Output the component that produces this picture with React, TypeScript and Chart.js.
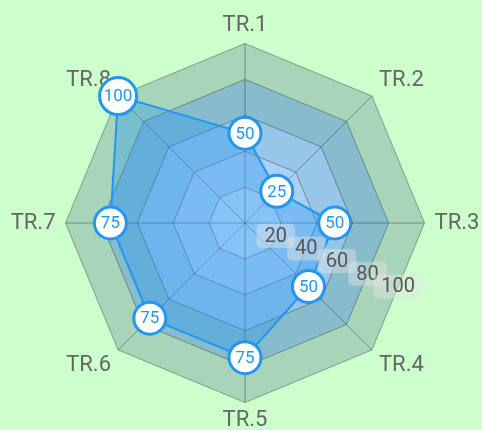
import React, { useEffect, useRef } from 'react';
import { Chart, registerables } from 'chart.js';

Chart.register(...registerables);

const LABELS = ['TR.1', 'TR.2', 'TR.3', 'TR.4', 'TR.5', 'TR.6', 'TR.7', 'TR.8'];
const VALUES = [50, 25, 50, 50, 75, 75, 75, 100];
const TICK_VALUES = [20, 40, 60, 80, 100];
const RING_FILLS = ['#bedcfc', '#aad0f5', '#96c6e8', '#87bccc', '#a8d5b9'];

const BLUE = 'rgb(33,150,243)';

const ringPlugin = {
  id: 'ringFill',
  beforeDraw(chart: any) {
    const s = chart.scales.r;
    const ctx = chart.ctx;
    const n = chart.data.labels.length;
    ctx.save();
    for (let k = TICK_VALUES.length - 1; k >= 0; k--) {
      ctx.beginPath();
      for (let i = 0; i < n; i++) {
        const p = s.getPointPositionForValue(i, TICK_VALUES[k]);
        if (i === 0) ctx.moveTo(p.x, p.y);
        else ctx.lineTo(p.x, p.y);
      }
      ctx.closePath();
      ctx.fillStyle = RING_FILLS[k];
      ctx.fill();
    }
    ctx.restore();
  },
};

const tickPlugin = {
  id: 'tickLabels',
  afterDatasetsDraw(chart: any) {
    const s = chart.scales.r;
    const ctx = chart.ctx;
    ctx.save();
    ctx.font = '20px Roboto';
    ctx.textAlign = 'center';
    ctx.textBaseline = 'middle';
    TICK_VALUES.forEach((v) => {
      const d = s.getDistanceFromCenterForValue(v) * Math.cos(Math.PI / 8);
      const p = s.getPointPosition(2.5, d);
      const label = String(v);
      const w = ctx.measureText(label).width + 16;
      const h = 24;
      ctx.beginPath();
      (ctx as any).roundRect(p.x - w / 2, p.y - h / 2, w, h, 5);
      ctx.fillStyle = 'rgba(228,228,228,0.45)';
      ctx.fill();
      ctx.fillStyle = '#555';
      ctx.fillText(label, p.x, p.y + 1);
    });
    ctx.restore();
  },
};

const pointTextPlugin = {
  id: 'pointText',
  afterDraw(chart: any) {
    const meta = chart.getDatasetMeta(0);
    const ctx = chart.ctx;
    ctx.save();
    ctx.font = '17px Roboto';
    ctx.textAlign = 'center';
    ctx.textBaseline = 'middle';
    ctx.fillStyle = BLUE;
    meta.data.forEach((pt: any, i: number) => {
      ctx.fillText(String(VALUES[i]), pt.x, pt.y + 1);
    });
    ctx.restore();
  },
};

export default function App() {
  const ref = useRef<HTMLCanvasElement>(null);
  useEffect(() => {
    if (!ref.current) return;
    Chart.defaults.font.family = 'Roboto';
    const chart = new Chart(ref.current, {
      type: 'radar',
      data: {
        labels: LABELS,
        datasets: [
          {
            data: VALUES,
            fill: true,
            backgroundColor: 'rgba(33,150,243,0.35)',
            borderColor: BLUE,
            borderWidth: 2,
            pointRadius: (c: any) => (String(c.raw).length > 2 ? 18.5 : 16),
            pointHoverRadius: (c: any) => (String(c.raw).length > 2 ? 18.5 : 16),
            pointBackgroundColor: '#fff',
            pointBorderColor: BLUE,
            pointBorderWidth: 3,
          },
        ],
      },
      options: {
        animation: false,
        responsive: true,
        maintainAspectRatio: false,
        layout: { padding: { top: 17, bottom: 1, left: 8, right: 0 } },
        plugins: { legend: { display: false }, tooltip: { enabled: false } },
        scales: {
          r: {
            min: 0,
            max: 100,
            ticks: { stepSize: 20, display: false },
            grid: { color: 'rgba(0,0,0,0.32)', lineWidth: 1 },
            angleLines: { color: 'rgba(0,0,0,0.32)', lineWidth: 1 },
            pointLabels: {
              color: '#666',
              padding: 10,
              font: { family: 'Roboto', size: 22, lineHeight: 0.75 },
            },
          },
        },
      },
      plugins: [ringPlugin, tickPlugin, pointTextPlugin],
    });
    return () => chart.destroy();
  }, []);
  return (
    <div
      style={{
        position: 'fixed',
        left: 0,
        top: 0,
        width: 482,
        height: 430,
        background: '#ccffcc',
      }}
    >
      <canvas ref={ref} />
    </div>
  );
}
